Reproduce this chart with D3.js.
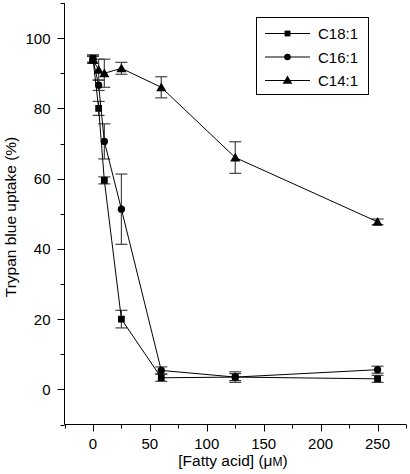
<!DOCTYPE html>
<html><head><meta charset="utf-8">
<script src="https://cdn.jsdelivr.net/npm/d3@7"></script>
<style>body{margin:0;background:#fff}svg{display:block}text{font-family:"Liberation Sans",Arial,sans-serif;}</style>
</head><body><svg id="c" width="410" height="474"></svg>
<script>
const xValues = [0, 5, 10, 25, 60, 125, 250];
const seriesNames = ["C18:1", "C16:1", "C14:1"];
const c18 = [94.2, 80.0, 59.5, 20.0, 3.3, 3.5, 3.0];
const c18Err = [1.0, 2.0, 1.0, 2.5, 1.0, 1.5, 1.0];
const c16 = [94.0, 86.6, 70.6, 51.3, 5.4, 3.5, 5.6];
const c16Err = [1.2, 1.5, 5.0, 10.0, 1.0, 1.0, 1.0];
const c14 = [93.8, 91.0, 90.0, 91.4, 86.0, 66.0, 47.7];
const c14Err = [1.0, 3.0, 4.0, 1.7, 3.0, 4.5, 0.8];
const xTicks = [0, 50, 100, 150, 200, 250];
const yTicks = [0, 20, 40, 60, 80, 100];

const svg = d3.select("#c");
const x = d3.scaleLinear().domain([-25, 275]).range([64.5, 406]);
const y = d3.scaleLinear().domain([-10, 110]).range([424.5, 3]);

const fs = "15px";
const yAxis = svg.append("g").attr("transform", "translate(64.5,0)");
yAxis.append("line").attr("x1",0).attr("x2",0).attr("y1",y(110)).attr("y2",y(-10)).attr("stroke","#000");
d3.range(-10, 111, 10).forEach(v => {
  const major = yTicks.includes(v);
  yAxis.append("line").attr("x1", major ? -7 : -4).attr("x2", 0)
    .attr("y1", Math.round(y(v))+0.5).attr("y2", Math.round(y(v))+0.5).attr("stroke","#000");
});
yTicks.forEach(v => yAxis.append("text").attr("x", -14).attr("y", y(v)+5.5).attr("text-anchor","end")
  .attr("font-size", fs).text(v));

const xAxis = svg.append("g").attr("transform", "translate(0,424.5)");
xAxis.append("line").attr("x1", x(-25)).attr("x2", x(275)).attr("y1",0).attr("y2",0).attr("stroke","#000");
d3.range(-25, 276, 25).forEach(v => {
  const major = xTicks.includes(v);
  xAxis.append("line").attr("y1",0).attr("y2", major ? 7 : 4)
    .attr("x1", Math.round(x(v))+0.5).attr("x2", Math.round(x(v))+0.5).attr("stroke","#000");
});
xTicks.forEach(v => xAxis.append("text").attr("x", x(v)).attr("y", 24).attr("text-anchor","middle")
  .attr("font-size", fs).text(v));

const xt = svg.append("text").attr("x", 233).attr("y", 466).attr("text-anchor","middle").attr("font-size", "15.5px");
xt.append("tspan").text("[Fatty acid] (\u03bc");
xt.append("tspan").attr("font-size","12px").text("M");
xt.append("tspan").text(")");
svg.append("text").attr("transform","translate(16,217) rotate(-90)").attr("text-anchor","middle")
  .attr("font-size", "15.5px").text("Trypan blue uptake (%)");

const series = [
  {name: seriesNames[0], vals: c18, err: c18Err, sym: d3.symbolSquare, size: 46},
  {name: seriesNames[1], vals: c16, err: c16Err, sym: d3.symbolCircle, size: 42},
  {name: seriesNames[2], vals: c14, err: c14Err, sym: d3.symbolTriangle, size: 44}
];

const line = d3.line().x(d => x(d[0])).y(d => y(d[1]));
series.forEach(s => {
  const g = svg.append("g").attr("stroke","#444").attr("stroke-width",1.2);
  xValues.forEach((xv, i) => {
    const cx = x(xv), top = y(s.vals[i] + s.err[i]), bot = y(s.vals[i] - s.err[i]);
    g.append("line").attr("x1",cx).attr("x2",cx).attr("y1",top).attr("y2",bot);
    g.append("line").attr("x1",cx-6).attr("x2",cx+6).attr("y1",top).attr("y2",top);
    g.append("line").attr("x1",cx-6).attr("x2",cx+6).attr("y1",bot).attr("y2",bot);
  });
});
series.forEach(s => {
  const pts = xValues.map((xv, i) => [xv, s.vals[i]]);
  svg.append("path").attr("d", line(pts)).attr("fill","none").attr("stroke","#000").attr("stroke-width",1);
  svg.append("g").selectAll("path").data(pts).join("path")
    .attr("transform", d => `translate(${x(d[0])},${y(d[1]) + (s.sym === d3.symbolTriangle ? 1 : 0)})`)
    .attr("d", d3.symbol().type(s.sym).size(s.size)).attr("fill","#000");
});

const lg = svg.append("g");
lg.append("rect").attr("x",256.5).attr("y",17.5).attr("width",112).attr("height",77)
  .attr("fill","#fff").attr("stroke","#000");
series.forEach((s, i) => {
  const yy = 33.5 + i * 23.5;
  lg.append("line").attr("x1",265).attr("x2",310).attr("y1",yy).attr("y2",yy).attr("stroke","#000");
  lg.append("path").attr("transform",`translate(287.5,${yy + (s.sym === d3.symbolTriangle ? 0.5 : 0)})`)
    .attr("d", d3.symbol().type(s.sym).size(s.sym === d3.symbolTriangle ? 40 : 34)).attr("fill","#000");
  lg.append("text").attr("x",318).attr("y",yy+5.5).attr("font-size",fs).text(s.name);
});
</script></body></html>
